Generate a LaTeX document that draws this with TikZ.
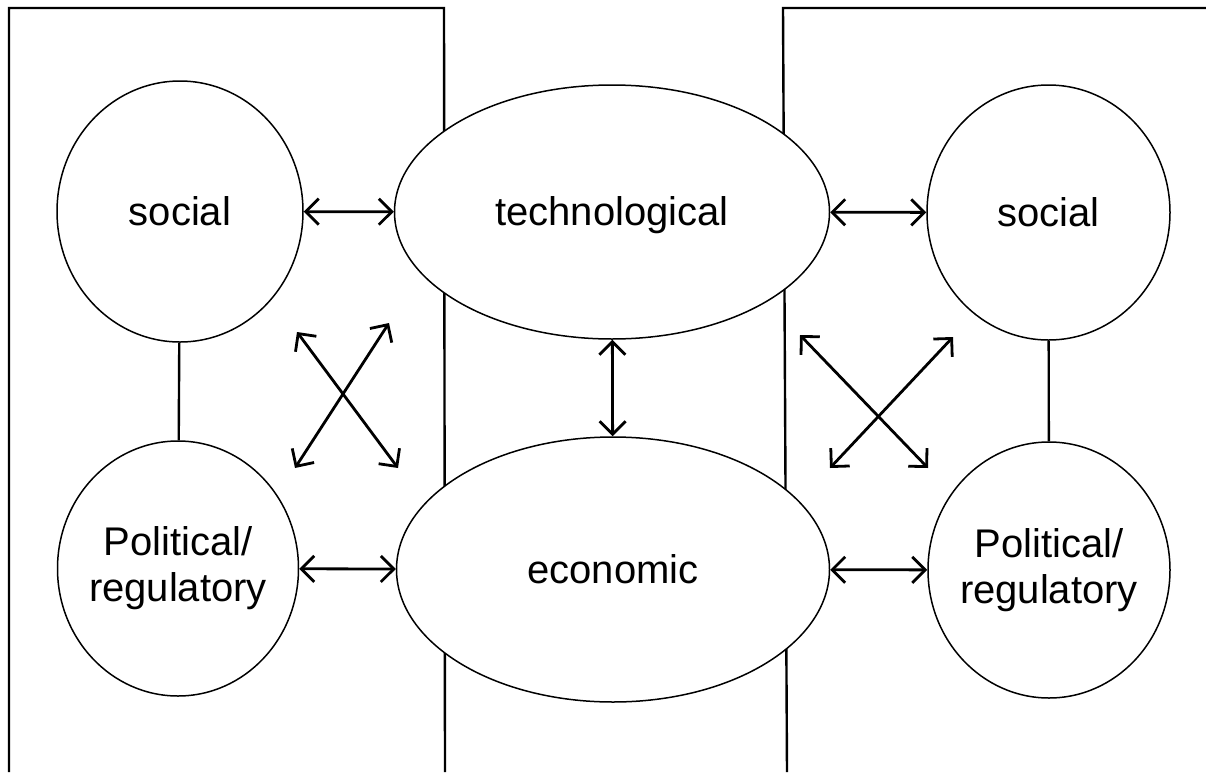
\documentclass[tikz,border=0pt]{standalone}
\usepackage{fontspec}
\setmainfont{Liberation Sans}
\usetikzlibrary{shapes.geometric,arrows.meta}
\begin{document}
\begin{tikzpicture}[x=0.5pt,y=-0.5pt,
  frame/.style={line width=1.2pt, line join=miter},
  blob/.style={ellipse, draw, fill=white, line width=0.75pt, inner sep=0pt},
  txt/.style={align=center, inner sep=0pt, font=\fontsize{20}{23}\selectfont},
  dbl/.style={line width=1.4pt, {Straight Barb[length=6.5pt,width=13pt]}-{Straight Barb[length=6.5pt,width=13pt]}},
  link/.style={line width=1.2pt}]
\useasboundingbox (0,0) rectangle (1206,772);
% frames
\draw[frame] (9,772) -- (9,8) -- (444,8) -- (445,772);
\draw[frame] (1206,8) -- (783,8) -- (787,772);
% nodes
\node[blob, minimum width=123pt, minimum height=130.5pt,
  label={[txt]center:social}] (ls) at (180,211.5) {};
\node[blob, minimum width=120.5pt, minimum height=127.5pt,
  label={[txt]center:Political/\\regulatory}] (lp) at (178,568.5) {};
\node[blob, minimum width=121.5pt, minimum height=127.5pt,
  label={[txt]center:social}] (rs) at (1048.5,212.5) {};
\node[blob, minimum width=121pt, minimum height=128pt,
  label={[txt]center:Political/\\regulatory}] (rp) at (1049,570) {};
\node[blob, minimum width=217.5pt, minimum height=127pt,
  label={[txt,yshift=-1.5pt]center:technological}] (tech) at (612,212) {};
\node[blob, minimum width=216.5pt, minimum height=132.5pt,
  label={[txt]center:economic}] (econ) at (613,569.5) {};
% connectors
\draw[dbl] (ls) -- (tech);
\draw[dbl] (tech) -- (rs);
\draw[dbl] (lp) -- (econ);
\draw[dbl] (econ) -- (rp);
\draw[dbl] (tech) -- (econ);
\draw[link] (ls) -- (lp);
\draw[link] (rs) -- (rp);
% crossing arrows
\coordinate (a1) at (297,332); \coordinate (a2) at (398,468);
\coordinate (b1) at (295,468); \coordinate (b2) at (389,323);
\coordinate (c1) at (800,335); \coordinate (c2) at (928,468);
\coordinate (d1) at (830,468); \coordinate (d2) at (953,337);
\draw[dbl] (a1) -- (a2);
\draw[dbl] (b1) -- (b2);
\draw[dbl] (c1) -- (c2);
\draw[dbl] (d1) -- (d2);
\end{tikzpicture}
\end{document}
